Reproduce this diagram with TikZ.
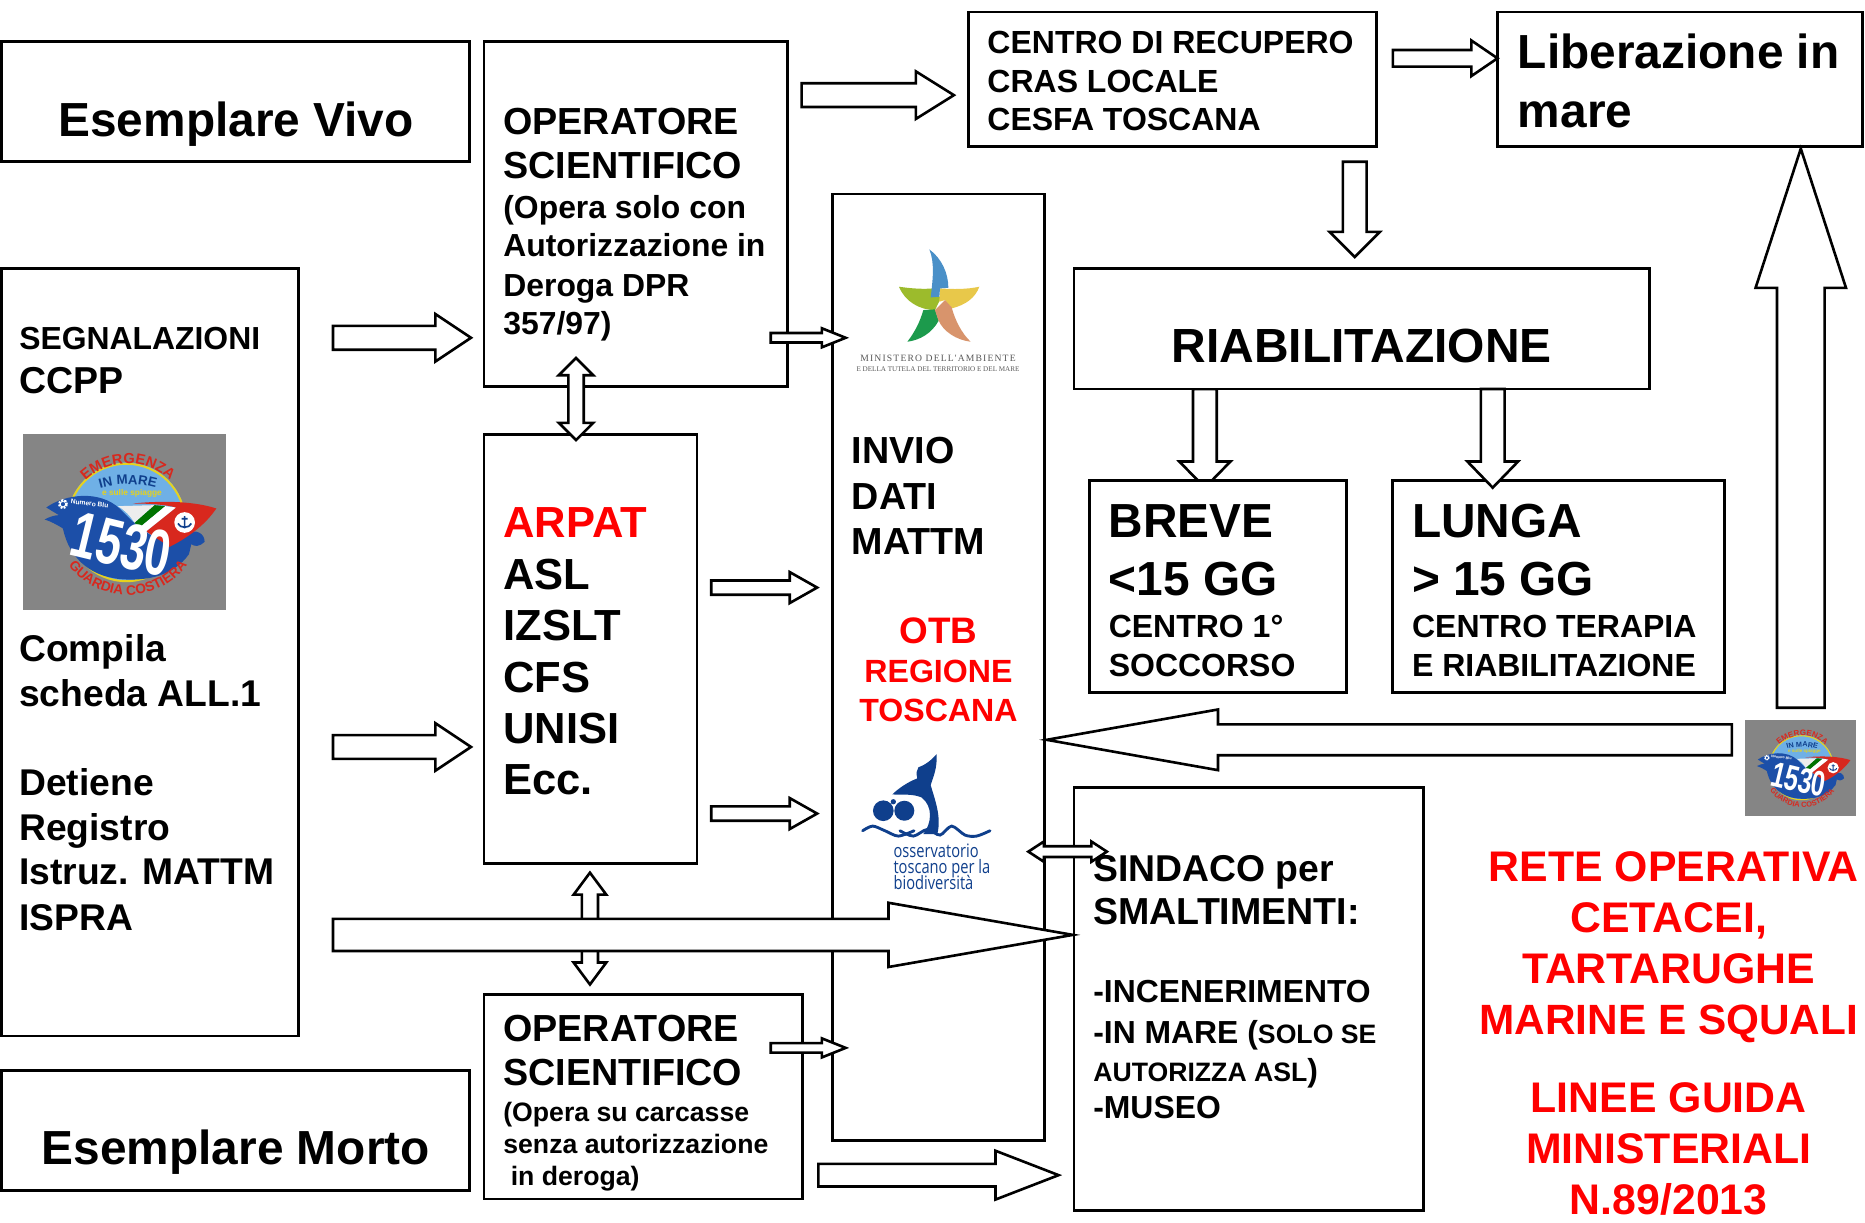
\documentclass[tikz,border=0pt]{standalone}
\usepackage{fontspec}
\setmainfont{Liberation Sans}
\newfontfamily\digitfont[FakeStretch=0.7]{Liberation Sans}
\newfontfamily\condfont[FakeStretch=0.79]{Open Sans}
\newfontfamily\serifspaced[LetterSpace=12]{Liberation Serif}
\newfontfamily\serifplain{Liberation Serif}
\usetikzlibrary{decorations.text,calc}
\definecolor{logogray}{HTML}{858585}
\definecolor{skyb}{HTML}{6FB0E6}
\definecolor{ribbon}{HTML}{1C4FA8}
\definecolor{logored}{HTML}{D8281E}
\definecolor{logoyel}{HTML}{E6D21E}
\definecolor{whaleblue}{HTML}{0F3F8C}
\definecolor{stblue}{HTML}{4A90C8}
\definecolor{stlime}{HTML}{9CBB2C}
\definecolor{styel}{HTML}{E8C84A}
\definecolor{stgreen}{HTML}{1C9A4C}
\definecolor{stsalmon}{HTML}{D8946C}
\tikzset{
  boxnode/.style={draw=black,line width=2.3pt,fill=white,rectangle,inner sep=0pt,outer sep=0pt},
  blockarrow/.style={draw=black,line width=2.2pt,fill=white,line join=miter},
  txt/.style={font=\bfseries,inner sep=0pt,text=black},
  redtxt/.style={txt,text=red}
}
% box: name, x1, y1, x2, y2
\newcommand\bx[5]{\node[boxnode,anchor=north west,minimum width=#4pt-#2pt,minimum height=#5pt-#3pt] (#1) at (#2,#3) {};}
% text line: size, gap to the previous baseline, text
\newcommand\rl[3]{\setbox0=\hbox{\fontsize{#1}{#1}\selectfont #3}\ht0=#2pt \dp0=0pt \box0 }
\newcommand\rlc[4]{\setbox0=\hbox to #4pt{\hfil\fontsize{#1}{#1}\selectfont #3\hfil}\ht0=#2pt \dp0=0pt \box0 }
\newcommand\tb[4][txt]{\node[#1,anchor=base west] (#2) at (#3) {\vtop{\offinterlineskip #4}};}
\newcommand\tbc[4][txt]{\node[#1,anchor=base] (#2) at (#3) {\vtop{\offinterlineskip #4}};}
% block arrows: name, start, direction, length, shaft, head width, head length
\newcommand\barrow[7]{\begin{scope}[shift={(#2)},rotate=#3]
  \coordinate (#1-s) at (0,0); \coordinate (#1-e) at (#4,0);
  \draw[blockarrow] (0,-#5/2) -- (#4-#7,-#5/2) -- (#4-#7,-#6/2) -- (#4,0) -- (#4-#7,#6/2) -- (#4-#7,#5/2) -- (0,#5/2) -- cycle;
\end{scope}}
\newcommand\dbarrow[7]{\begin{scope}[shift={(#2)},rotate=#3]
  \coordinate (#1-s) at (0,0); \coordinate (#1-e) at (#4,0);
  \draw[blockarrow] (0,0) -- (#7,-#6/2) -- (#7,-#5/2) -- (#4-#7,-#5/2) -- (#4-#7,-#6/2) -- (#4,0) -- (#4-#7,#6/2) -- (#4-#7,#5/2) -- (#7,#5/2) -- (#7,#6/2) -- cycle;
\end{scope}}
% emblem: x, y of the top left corner, scale
\newcommand\emblem[4]{\begin{scope}[shift={(#2,#3)},scale=#4,shift={(-69,-102)}]
  \pgfmathsetmacro\fa{#4*44}\pgfmathsetmacro\fb{#4*41}\pgfmathsetmacro\fc{#4*40}\pgfmathsetmacro\fd{#4*195}\pgfmathsetmacro\fe{#4*25}\pgfmathsetmacro\ff{#4*20}
  \fill[logogray] (69,102) rectangle (678,630);
  \fill[skyb] (380,365) circle[radius=178];
  \draw[logoyel,line width=#4*6pt] (380,367) circle[radius=176];
  \fill[ribbon] (140,322) .. controls (200,280) and (300,270) .. (360,325)
     .. controls (420,385) and (470,445) .. (560,400) .. controls (590,385) and (615,400) .. (615,425)
     .. controls (600,440) and (585,440) .. (575,432) -- (568,462)
     .. controls (520,530) and (440,540) .. (380,538) .. controls (280,535) and (210,480) .. (190,385)
     .. controls (175,375) and (150,362) .. (135,358) .. controls (150,350) and (165,345) .. (178,345) -- cycle;
  \fill[white!85!logogray] (355,318) -- (465,315) -- (405,368) .. controls (390,345) and (375,330) .. (355,318) -- cycle;
  \fill[green!45!black] (405,368) -- (465,315) -- (497,318) -- (420,382) -- cycle;
  \fill[white] (420,382) -- (497,318) -- (530,322) -- (440,394) -- cycle;
  \fill[logored] (400,310) .. controls (500,300) and (590,305) .. (650,325) .. controls (620,370) and (570,410) .. (510,440) -- (440,394) -- (530,322) .. controls (490,312) and (440,310) .. (400,310) -- cycle;
  \fill[white] (555,367) circle[radius=31];
  \draw[whaleblue,line width=#4*5pt] (555,348) -- (555,385) (535,370) .. controls (540,385) and (570,385) .. (575,370) (546,356) -- (564,356);
  \path[decorate,decoration={text along path,text align=center,text={|\digitfont\bfseries\fontsize{\fd}{\fd}\selectfont\color{white}|1530}}] (198,462) .. controls (300,485) and (400,515) .. (508,530);
  \path[decorate,decoration={text along path,text align=center,text={|\bfseries\fontsize{\fa}{\fa}\selectfont\color{logored}|EMERGENZA}}] (385,372) ++(222:182) arc[start angle=222,end angle=318,radius=182];
  \path[decorate,decoration={text along path,text align=center,text={|\bfseries\fontsize{\fb}{\fb}\selectfont\color{logored}|GUARDIA COSTIERA}}] (385,365) ++(150:220) arc[start angle=150,end angle=30,radius=220];
  \path[decorate,decoration={text along path,text align=center,text={|\bfseries\fontsize{\fc}{\fc}\selectfont\color{whaleblue}|IN MARE}}] (385,552) ++(250:300) arc[start angle=250,end angle=290,radius=300];
  \node[font=\bfseries\fontsize{\fe}{\fe}\selectfont,text=logoyel,inner sep=0pt,anchor=base] (#1-s) at (397,285) {e sulle spiagge};
  \draw[white,line width=#4*8pt,dash pattern=on #4*6pt off #4*3pt] (190,312) circle[radius=11];
  \node[font=\bfseries\fontsize{\ff}{\ff}\selectfont,text=white,inner sep=0pt,rotate=-7] (#1-n) at (270,310) {Numero Blu};
\end{scope}}
\begin{document}
\begin{tikzpicture}[x=1pt,y=-1pt]
\useasboundingbox (0,0) rectangle (1568,1028.2);
\fill[white] (0,0) rectangle (1568,1028.2);
% this arrow's tip lies under the box it points to
\barrow{aJ}{1013,327}{270}{83}{20}{43}{22}
% boxes
\bx{vivo}{1}{35}{395}{136}
\bx{morto}{1}{900}{395}{1001}
\bx{opa}{407}{35}{662}{325}
\bx{centro}{814}{10}{1157}{123}
\bx{liber}{1259}{10}{1566}{123}
\bx{riab}{903}{226}{1387}{327}
\bx{breve}{916}{404}{1132}{582}
\bx{lunga}{1171}{404}{1450}{582}
\bx{segn}{1}{226}{251}{871}
\bx{arpat}{407}{365}{586}{726}
\bx{invio}{700}{163}{878}{959}
\bx{opb}{407}{836}{675}{1008}
\bx{sind}{903}{662}{1197}{1018}
% emblems
\emblem{embA}{19}{365}{0.2803}
\emblem{embB}{1467}{605}{0.1527}
% ministry mark
\begin{scope}[shift={(689.4,185)},scale=0.2803]
  \fill[stlime] (237,200) .. controls (270,205) and (310,208) .. (340,205) -- (362,235) -- (345,270) .. controls (300,270) and (255,245) .. (237,200) -- cycle;
  \fill[styel] (478,200) .. controls (440,208) and (400,208) .. (360,205) -- (358,245) -- (375,240) -- (395,265) .. controls (435,255) and (465,235) .. (478,200) -- cycle;
  \fill[stblue] (328,88) .. controls (365,115) and (385,160) .. (385,203) -- (360,205) -- (358,230) -- (332,232) .. controls (338,180) and (345,130) .. (328,88) -- cycle;
  \fill[stgreen] (310,270) -- (345,268) -- (356,302) .. controls (335,340) and (300,360) .. (262,365) .. controls (285,335) and (300,305) .. (310,270) -- cycle;
  \fill[stsalmon] (375,240) -- (395,262) .. controls (405,300) and (425,340) .. (452,365) .. controls (410,360) and (370,335) .. (355,300) -- (345,270) -- cycle;
  \node[font=\serifspaced\fontsize{8.1}{8.1}\selectfont,text=black!65,inner sep=0pt,anchor=base] (minA) at (354,425) {MINISTERO DELL'AMBIENTE};
  \node[font=\serifplain\fontsize{6}{6}\selectfont,text=black!65,inner sep=0pt,anchor=base] (minB) at (354,455) {E DELLA TUTELA DEL TERRITORIO E DEL MARE};
\end{scope}
% whale mark
\begin{scope}[shift={(706.2,622.2)},scale=0.2803]
  \fill[whaleblue] (130,212) circle[radius=31] (193,212) circle[radius=30] (160,185) circle[radius=8];
  \fill[whaleblue] (290,42) .. controls (292,85) and (280,110) .. (272,135) .. controls (285,180) and (305,230) .. (292,282)
    -- (250,282) .. controls (275,250) and (280,200) .. (245,172) .. controls (215,160) and (185,165) .. (157,163)
    .. controls (175,145) and (205,125) .. (232,115) .. controls (228,100) and (230,90) .. (235,82) .. controls (255,75) and (275,60) .. (290,42) -- cycle;
  \draw[whaleblue,line width=2.4pt,line cap=round] plot[smooth] coordinates {(68,272) (98,258) (135,272) (175,288) (222,272)};
  \draw[whaleblue,line width=2.4pt,line cap=round] plot[smooth] coordinates {(180,272) (220,288) (262,268) (300,285) (335,258) (375,285) (410,288) (450,272)};
  \node[font=\condfont\fontsize{15.6}{15.6}\selectfont,text=whaleblue,inner sep=0pt,anchor=base west] (ossA) at (160,352) {\vtop{\offinterlineskip\rl{15.6}{0}{osservatorio}\rl{15.6}{13.3}{toscano per la}\rl{15.6}{13.3}{biodiversità}}};
\end{scope}
% arrows
\barrow{aA}{674,80}{0}{128}{20}{40}{32}
\barrow{aB}{1171,49}{0}{88}{14}{30}{22}
\barrow{aC}{1139,136}{270}{80}{20}{42}{21}
\barrow{aD}{280,284}{0}{116}{20}{40}{30}
\barrow{aE}{280,628}{0}{116}{20}{40}{30}
\barrow{aF}{648,284}{0}{63}{8}{16}{20}
\dbarrow{aG}{484.3,301}{270}{69}{13}{29}{14.5}
\barrow{aH}{598,494}{0}{89}{12}{26}{23}
\barrow{aI}{598,684}{0}{89}{12}{26}{23}
\barrow{aK}{1255,327}{270}{83}{20}{42.6}{22}
\barrow{aL}{1514,595}{90}{470}{40}{76}{117}
\barrow{aM}{1456,622}{180}{576}{26}{51}{144}
\dbarrow{aN}{496,733.7}{270}{94}{13.5}{27.5}{18.5}
\barrow{aO}{280,786}{0}{622}{27}{54}{155}
\barrow{aP}{648,881}{0}{63}{8}{16}{20}
\barrow{aQ}{688,988}{0}{202}{19}{41}{53}
\dbarrow{aR}{864.6,716}{0}{66}{9}{17}{13}
% texts
\tb{tvivo}{49,115}{\rl{40.2}{0}{Esemplare Vivo}}
\tb{tmorto}{35,979}{\rl{40.2}{0}{Esemplare Morto}}
\tb{topa}{423,113}{\rl{31.7}{0}{OPERATORE}\rl{31.7}{37}{SCIENTIFICO}\rl{26.8}{34}{(Opera solo con}\rl{26.8}{32}{Autorizzazione in}\rl{26.8}{33}{Deroga DPR}\rl{26.8}{32}{357/97)}}
\tb{tcentro}{830,45}{\rl{26.9}{0}{CENTRO DI RECUPERO}\rl{26.9}{33}{CRAS LOCALE}\rl{26.9}{32}{CESFA TOSCANA}}
\tb{tliber}{1276,58}{\rl{40.2}{0}{Liberazione in}\rl{40.2}{49}{mare}}
\tb{triab}{985,305}{\rl{40.3}{0}{RIABILITAZIONE}}
\tb{tbreve}{932,452}{\rl{40.2}{0}{BREVE}\rl{40.2}{49}{<15 GG}\rl{26.9}{35}{CENTRO 1°}\rl{26.9}{32.5}{SOCCORSO}}
\tb{tlunga}{1187,452}{\rl{40.2}{0}{LUNGA}\rl{40.2}{49}{> 15 GG}\rl{26.9}{35}{CENTRO TERAPIA}\rl{26.9}{32.5}{E RIABILITAZIONE}}
\tb{tsegn}{16,294}{\rl{26.8}{0}{SEGNALAZIONI}\rl{31.5}{36.5}{CCPP}}
\tb{tsegnb}{16,556}{\rl{31.3}{0}{Compila}\rl{31.3}{38}{scheda ALL.1}\rl{31.3}{74.5}{Detiene}\rl{31.3}{38}{Registro}\rl{31.3}{37.5}{Istruz. MATTM}\rl{31.3}{38}{ISPRA}}
\tb[redtxt]{tarpatr}{423,452}{\rl{36.6}{0}{ARPAT}}
\tb{tarpat}{423,495.5}{\rl{36.6}{0}{ASL}\rl{36.6}{43.2}{IZSLT}\rl{36.6}{43.2}{CFS}\rl{36.6}{43.2}{UNISI}\rl{36.6}{43.2}{Ecc.}}
\tb{tinvio}{716,390}{\rl{31.7}{0}{INVIO}\rl{31.7}{38}{DATI}\rl{31.7}{38}{MATTM}}
\tbc[redtxt]{totb}{789,541}{\rlc{31}{0}{OTB}{170}\rlc{27}{33}{REGIONE}{170}\rlc{27}{32.5}{TOSCANA}{170}}
\tb{topb}{423,876}{\rl{31.7}{0}{OPERATORE}\rl{31.7}{37}{SCIENTIFICO}\rl{22.4}{30}{(Opera su carcasse}\rl{22.4}{27}{senza autorizzazione}\rl{22.4}{26.5}{\ in deroga)}}
\tb{tsind}{919,741}{\rl{31.4}{0}{SINDACO per}\rl{31.6}{36}{SMALTIMENTI:}\rl{26.8}{66}{-INCENERIMENTO}\rl{26.8}{34}{-IN MARE ({\fontsize{22.4}{22.4}\selectfont SOLO SE}}\rl{22.4}{32}{AUTORIZZA ASL{\fontsize{26.8}{26.8}\selectfont )}}\rl{26.8}{31}{-MUSEO}}
\tbc[redtxt]{trete}{1403,741}{\rlc{36}{0}{\kern8pt RETE OPERATIVA}{322}\rlc{36}{43}{CETACEI,}{322}\rlc{36}{43}{TARTARUGHE}{322}\rlc{35.6}{43}{MARINE E SQUALI}{322}}
\tbc[redtxt]{tlinee}{1403,935}{\rlc{36}{0}{LINEE GUIDA}{322}\rlc{36}{43}{MINISTERIALI}{322}\rlc{36}{43}{N.89/2013}{322}}
\end{tikzpicture}
\end{document}
